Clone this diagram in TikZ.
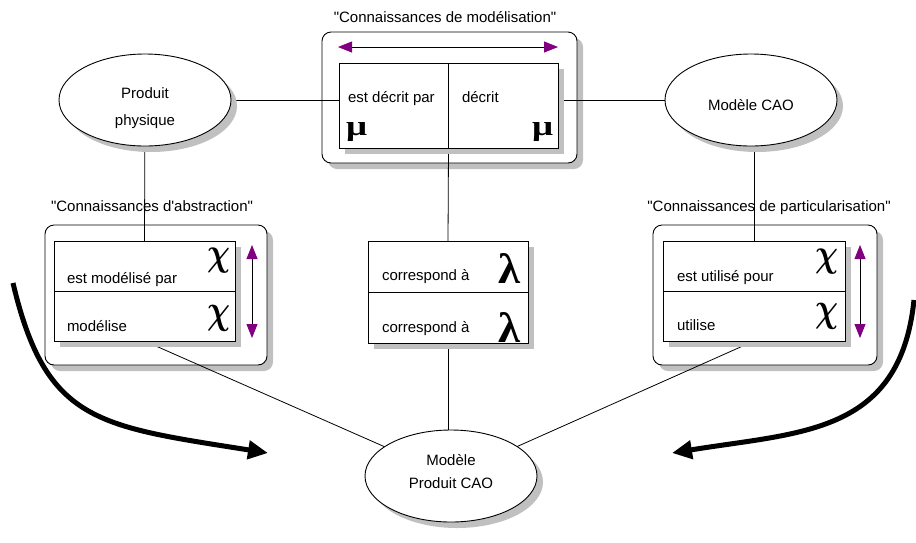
\documentclass[tikz,border=0pt]{standalone}
\usepackage{fontspec}
\setmainfont{Liberation Sans}
\newfontfamily\grkfont{Liberation Serif}
\usetikzlibrary{arrows.meta,shapes.geometric}
\pgfdeclarelayer{bgshadow}
\pgfdeclarelayer{bg}
\pgfdeclarelayer{fgshadow}
\pgfdeclarelayer{fg}
\pgfsetlayers{bgshadow,bg,main,fgshadow,fg}
\definecolor{shadowgray}{HTML}{C0C0C0}
\definecolor{arrowpurple}{HTML}{800080}
\newcommand\grkglyph[3]{\resizebox*{#2pt}{#3pt}{\grkfont\bfseries #1}}
\newcommand\chiglyph[2]{\resizebox*{#1pt}{#2pt}{\boldmath$\chi$}}
\begin{document}
\begin{tikzpicture}[x=1pt,y=-1pt,
  every node/.style={inner sep=0pt, outer sep=0pt, font=\fontsize{15}{18}\selectfont, text=black},
  outerbox/.style={draw, line width=0.9pt, rounded corners=9pt, fill=white},
  innerbox/.style={draw, line width=0.9pt, fill=white},
  ell/.style={ellipse, draw, line width=0.9pt, fill=white, minimum width=172pt, minimum height=92pt},
  boxshadow/.style={fill=shadowgray},
  titletext/.style={anchor=base},
  lbl/.style={anchor=base west},
  ctext/.style={anchor=base},
  conn/.style={line width=0.8pt},
  dbl/.style={line width=0.8pt, {Triangle[length=14pt,width=11pt,color=arrowpurple]}-{Triangle[length=14pt,width=11pt,color=arrowpurple]}},
  bigarrow/.style={line width=5pt, -{Triangle[length=20pt,width=18pt]}}
]
\useasboundingbox (0,0) rectangle (916,542);

% ---------- background layer: outer boxes and titles
\begin{pgfonlayer}{bg}
\node[outerbox, minimum width=255pt, minimum height=131pt] (topout) at (449.5,97.5) {};
\node[outerbox, minimum width=222pt, minimum height=140pt] (absout) at (156,295) {};
\node[outerbox, minimum width=224pt, minimum height=140pt] (partout) at (765,295) {};
\node[titletext] (t1) at (445,22) {\textquotedbl Connaissances de modélisation\textquotedbl};
\node[titletext] (t2) at (152,211) {\textquotedbl Connaissances d\textquotesingle abstraction\textquotedbl};
\node[titletext] (t3) at (769,211) {\textquotedbl Connaissances de particularisation\textquotedbl};
\end{pgfonlayer}
\begin{pgfonlayer}{bgshadow}
\foreach \n in {topout,absout,partout}
  \fill[boxshadow, rounded corners=9pt] ([shift={(6,6)}]\n.south west) rectangle ([shift={(6,6)}]\n.north east);
\end{pgfonlayer}

% ---------- foreground layer: inner boxes, ellipses, texts
\begin{pgfonlayer}{fg}
\node[innerbox, minimum width=219pt, minimum height=85pt] (topbox) at (448.5,105.5) {};
\node[innerbox, minimum width=181pt, minimum height=100pt] (absbox) at (144.5,291) {};
\node[innerbox, minimum width=160pt, minimum height=102pt] (corbox) at (448,292) {};
\node[innerbox, minimum width=182pt, minimum height=100pt] (partbox) at (754,291) {};
\draw[conn] (topbox.north) -- (topbox.south);
\draw[conn] (absbox.west) -- (absbox.east);
\draw[conn] (corbox.west) -- (corbox.east);
\draw[conn] (partbox.west) -- (partbox.east);

\node[ell] (pp) at (145,100) {};
\node[ell] (mcao) at (751,100) {};
\node[ell] (mpc) at (451,476) {};

\node[ctext] (pp1) at (145,98) {Produit};
\node[ctext] (pp2) at (145,125) {physique};
\node[ctext] (mc1) at (751,110) {Modèle CAO};
\node[ctext] (mp1) at (451,465) {Modèle};
\node[ctext] (mp2) at (451,488) {Produit CAO};

\node[lbl] (l1) at (348,102) {est décrit par};
\node[lbl] (l2) at (462,102) {décrit};
\node[lbl] (l3) at (67,283) {est modélisé par};
\node[lbl] (l4) at (67,331) {modélise};
\node[lbl] (l5) at (382,280) {correspond à};
\node[lbl] (l6) at (382,332) {correspond à};
\node[lbl] (l7) at (677,281) {est utilisé pour};
\node[lbl] (l8) at (677,330) {utilise};

\node (g1) at (356.5,132.5) {\grkglyph{μ}{21}{19}};
\node (g2) at (542.5,132.5) {\grkglyph{μ}{21}{19}};
\node (g3) at (218.5,260.5) {\chiglyph{23}{25}};
\node (g4) at (218.5,318) {\chiglyph{23}{26}};
\node (g5) at (826.5,261.5) {\chiglyph{23}{25}};
\node (g6) at (826.5,316.5) {\chiglyph{23}{26}};
\node (g7) at (509,268) {\grkglyph{λ}{22}{30}};
\node (g8) at (509,327.5) {\grkglyph{λ}{22}{30}};
\end{pgfonlayer}
\begin{pgfonlayer}{fgshadow}
\foreach \n in {topbox,absbox,corbox,partbox}
  \fill[boxshadow] ([shift={(6,6)}]\n.south west) rectangle ([shift={(6,6)}]\n.north east);
\foreach \n in {pp,mcao,mpc}
  \fill[boxshadow] ([shift={(6,6)}]\n.center) ellipse [x radius=86, y radius=46];
\end{pgfonlayer}

% ---------- main layer: connectors
\draw[conn] (pp) -- (pp -| topbox.west);
\draw[conn] (topbox.east |- mcao) -- (mcao);
\draw[conn] (pp) -- (absbox.north);
\draw[conn] (partbox.north) -- (partbox.north |- mcao.south);
\draw[conn] (topbox.south) -- (corbox.north);
\draw[conn] (corbox.south) -- (corbox.south |- mpc.north);
\draw[conn] (absbox.south) -- (mpc);
\draw[conn] (partbox.south) -- (mpc);

% purple double arrows
\coordinate (ha) at (338,47);
\coordinate (hb) at (558,47);
\draw[dbl] (ha) -- (hb);
\coordinate (va) at (252,245);
\coordinate (vb) at (252,338);
\draw[dbl] (va) -- (vb);
\coordinate (wa) at (860,245);
\coordinate (wb) at (860,338);
\draw[dbl] (wa) -- (wb);

% big curved arrows
\coordinate (la0) at (13,283);
\coordinate (la1) at (268,453);
\draw[bigarrow] (la0) .. controls (46,423) and (98,426) .. (la1);
\coordinate (ra0) at (914,300);
\coordinate (ra1) at (672,453);
\draw[bigarrow] (ra0) .. controls (900,435) and (800,432) .. (ra1);
\end{tikzpicture}
\end{document}
